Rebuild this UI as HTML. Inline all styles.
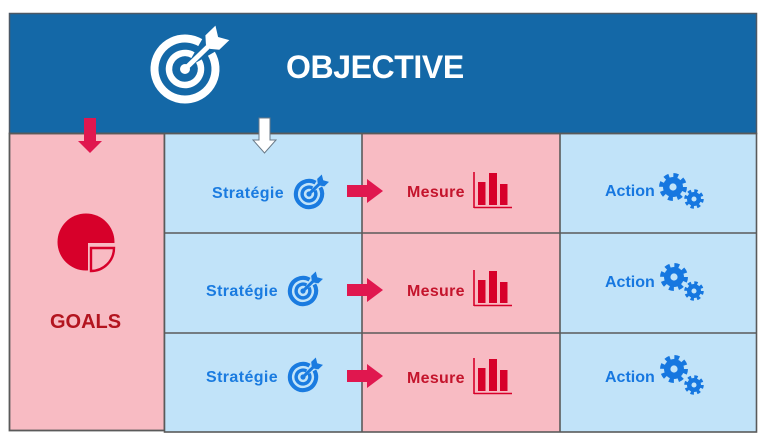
<!DOCTYPE html>
<html><head><meta charset="utf-8"><style>
html,body{margin:0;padding:0;background:#fff;width:768px;height:440px;overflow:hidden}
svg{display:block}
text{font-family:"Liberation Sans",sans-serif;font-weight:bold}
</style></head><body>
<svg width="768" height="440" viewBox="0 0 768 440" xmlns="http://www.w3.org/2000/svg">
<defs>
  <g id="tgt">
    <path d="M26.4,-15.25 A30.5,30.5 0 1 1 15.25,-26.4" fill="none" stroke-width="8"/>
    <path d="M13.86,-8 A16,16 0 1 1 8,-13.86" fill="none" stroke-width="6.5"/>
    <circle cx="0" cy="0" r="5" stroke="none"/>
    <g transform="rotate(-44)">
      <line x1="0" y1="0" x2="40" y2="0" stroke-width="5"/>
      <polygon points="32,-3 38,-10 52,-10 46,0 52,10 38,10 32,3" stroke="none"/>
    </g>
  </g>
  <g id="tgts">
    <path d="M26.4,-15.25 A30.5,30.5 0 1 1 15.25,-26.4" fill="none" stroke-width="9.5"/>
    <path d="M13.86,-8 A16,16 0 1 1 8,-13.86" fill="none" stroke-width="8"/>
    <circle cx="0" cy="0" r="6" stroke="none"/>
    <g transform="rotate(-44)">
      <line x1="0" y1="0" x2="40" y2="0" stroke-width="7"/>
      <polygon points="32,-4 38,-12 53,-12 46,0 53,12 38,12 32,4" stroke="none"/>
    </g>
  </g>
  <g id="gear">
    <circle r="10" stroke="none"/>
    <circle r="11.2" fill="none" stroke-width="5.5" stroke-dasharray="4.6 4.2"/>
    <circle r="3.6" fill="#c1e3f9" stroke="none"/>
  </g>
  <g id="bars">
    <line x1="474" y1="172" x2="474" y2="208" stroke="#d7002a" stroke-width="1.6"/>
    <line x1="474" y1="207.5" x2="512" y2="207.5" stroke="#d7002a" stroke-width="1.6"/>
    <rect x="478" y="182" width="7.5" height="23" fill="#d7002a"/>
    <rect x="489" y="173" width="8" height="32" fill="#d7002a"/>
    <rect x="500" y="184" width="7.5" height="21" fill="#d7002a"/>
  </g>
  <polygon id="rarr" points="347,-6 367,-6 367,-12 383,0 367,12 367,6 347,6" fill="#e0174f"/>
</defs>

<!-- top blue box -->
<rect x="9.5" y="13.5" width="747" height="120" fill="#1468a7" stroke="#4b5866" stroke-width="1.5"/>

<!-- left goals box -->
<rect x="9.5" y="133.5" width="155" height="297" fill="#f8bbc3" stroke="#5a5a5a" stroke-width="1.8"/>
<!-- grid -->
<rect x="164" y="133.5" width="198" height="298.5" fill="#c1e3f9"/>
<rect x="362" y="133.5" width="198" height="298.5" fill="#f8bbc3"/>
<rect x="560" y="133.5" width="197" height="298.5" fill="#c1e3f9"/>
<g stroke="#5a5a5a" stroke-width="1.6" fill="none">
  <rect x="164.5" y="133.5" width="592" height="298.5"/>
  <line x1="362" y1="133.5" x2="362" y2="432"/>
  <line x1="560" y1="133.5" x2="560" y2="432"/>
  <line x1="164.5" y1="233" x2="756.5" y2="233"/>
  <line x1="164.5" y1="333" x2="756.5" y2="333"/>
</g>
<line x1="9.5" y1="133.5" x2="756.5" y2="133.5" stroke="#5a5a5a" stroke-width="1.6"/>

<!-- top icon and title -->
<use href="#tgt" transform="translate(185,69)" fill="#fff" stroke="#fff"/>
<text x="286" y="78" font-size="32" fill="#fff" letter-spacing="-0.4">OBJECTIVE</text>

<!-- down arrows -->
<polygon points="84,118 96,118 96,141 102,141 90,153 78,141 84,141" fill="#e0174f"/>
<polygon points="259,118 270,118 270,140 276,140 264.5,153 253,140 259,140" fill="#fff" stroke="#6a7a88" stroke-width="1"/>

<!-- goals -->
<circle cx="86" cy="242" r="28.5" fill="#d7002a"/>
<rect x="88" y="243" width="30" height="30" fill="#f8bbc3"/>
<path d="M91,248 L114,248 A23,23 0 0 1 91,271 Z" fill="none" stroke="#d7002a" stroke-width="2.4"/>
<text x="50" y="328" font-size="20" fill="#b3141f">GOALS</text>

<!-- row 1 -->
<text x="212" y="198" font-size="16" fill="#1a7be0" letter-spacing="0.4">Stratégie</text>
<use href="#tgts" transform="translate(309,194) scale(0.43)" fill="#1a7be0" stroke="#1a7be0"/>
<use href="#rarr" transform="translate(0,191)"/>
<text x="407" y="197" font-size="16" fill="#c4142c" letter-spacing="0.3">Mesure</text>
<use href="#bars"/>
<text x="605" y="196" font-size="16" fill="#1677e0">Action</text>
<use href="#gear" transform="translate(673,187)" fill="#1677e0" stroke="#1677e0"/>
<use href="#gear" transform="translate(694,199) scale(0.7)" fill="#1677e0" stroke="#1677e0"/>

<!-- row 2 -->
<text x="206" y="296" font-size="16" fill="#1a7be0" letter-spacing="0.4">Stratégie</text>
<use href="#tgts" transform="translate(303,291) scale(0.43)" fill="#1a7be0" stroke="#1a7be0"/>
<use href="#rarr" transform="translate(0,290)"/>
<text x="407" y="296" font-size="16" fill="#c4142c" letter-spacing="0.3">Mesure</text>
<use href="#bars" transform="translate(0,98)"/>
<text x="605" y="287" font-size="16" fill="#1677e0">Action</text>
<use href="#gear" transform="translate(674,277)" fill="#1677e0" stroke="#1677e0"/>
<use href="#gear" transform="translate(694,291) scale(0.7)" fill="#1677e0" stroke="#1677e0"/>

<!-- row 3 -->
<text x="206" y="382" font-size="16" fill="#1a7be0" letter-spacing="0.4">Stratégie</text>
<use href="#tgts" transform="translate(303,377) scale(0.43)" fill="#1a7be0" stroke="#1a7be0"/>
<use href="#rarr" transform="translate(0,376)"/>
<text x="407" y="383" font-size="16" fill="#c4142c" letter-spacing="0.3">Mesure</text>
<use href="#bars" transform="translate(0,186)"/>
<text x="605" y="382" font-size="16" fill="#1677e0">Action</text>
<use href="#gear" transform="translate(674,369)" fill="#1677e0" stroke="#1677e0"/>
<use href="#gear" transform="translate(694,385) scale(0.7)" fill="#1677e0" stroke="#1677e0"/>
</svg>
</body></html>
